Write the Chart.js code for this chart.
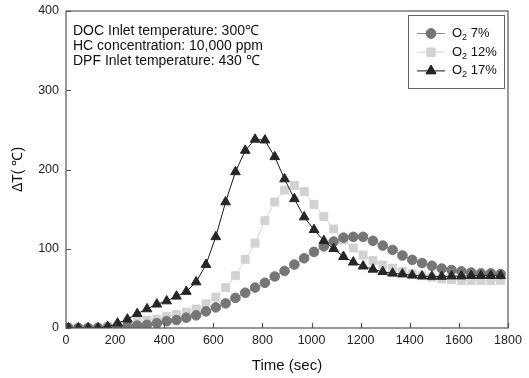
<!DOCTYPE html>
<html>
	<head>
		<meta charset="UTF-8" />
		<title>Delta T vs time</title>
		<style type="text/css">
			body { margin: 0; background: #ffffff; }
		</style>
	</head>
	<body>
		<canvas id="myChart" width="529" height="378"></canvas>

		<script src="https://cdn.jsdelivr.net/npm/chart.js"></script>
		<script>
			// sample times (sec), one point every 40 s
			const times = [10, 50, 90, 130, 170, 210, 250, 290, 330, 370, 410, 450, 490, 530, 570,
				610, 650, 690, 730, 770, 810, 850, 890, 930, 970, 1010, 1050, 1090, 1130, 1170,
				1210, 1250, 1290, 1330, 1370, 1410, 1450, 1490, 1530, 1570, 1610, 1650, 1690, 1730, 1770];

			// delta T (deg C)
			const o2_7 = [0, 0, 0, 0, 0.5, 1, 2, 3, 4, 6, 8.5, 10, 13, 16, 21,
				26, 31, 38, 44.5, 51, 57, 65, 72, 80, 88, 96, 103, 109, 114, 115,
				115, 110, 104, 98.5, 91.5, 86, 82, 78.5, 75, 73, 71.5, 70, 69, 69, 68];
			const o2_12 = [0, 0, 0, 1, 2, 3, 5, 8, 10, 11, 14.5, 17, 20, 24, 30.5,
				39, 51, 66, 86.5, 107, 135.5, 159, 174, 180, 172, 156, 140.5, 125, 111, 101,
				92, 85, 79.5, 75.5, 71.5, 68.5, 66, 64, 62, 61, 60, 60, 60, 60, 60];
			const o2_17 = [0, 0, 0, 0, 1.5, 6, 11, 18, 24, 30, 34, 40, 46, 58, 80,
				115, 159, 197, 224, 238, 237, 216, 188, 163, 140, 124, 110, 100, 90, 83,
				78, 74, 71, 69, 68, 66.5, 65.5, 65, 65, 65.5, 65.5, 66, 66, 66, 66];

			const xTicks = [0, 200, 400, 600, 800, 1000, 1200, 1400, 1600, 1800];
			const yTicks = [0, 100, 200, 300, 400];

			const notes = [
				"DOC Inlet temperature: 300\u2103",
				"HC concentration: 10,000 ppm",
				"DPF Inlet temperature: 430 \u2103"
			];
			const legendNames = ["7%", "12%", "17%"];

			function pts(vals) {
				return vals.map((v, i) => ({ x: times[i], y: v }));
			}
		</script>

		<script>
		const ctx = document.getElementById('myChart').getContext('2d');
		const FONT = "'Liberation Sans', Arial, sans-serif";

		// box around the plot, inward ticks, text block and legend
		const framePlugin = {
			id: 'frame',
			afterDraw(chart) {
				const c = chart.ctx;
				const a = chart.chartArea;
				const xs = chart.scales.x, ys = chart.scales.y;
				c.save();
				c.strokeStyle = '#555';
				c.lineWidth = 1.2;
				c.strokeRect(a.left, a.top, a.right - a.left, a.bottom - a.top);

				c.beginPath();
				xTicks.forEach(t => {
					const px = Math.round(xs.getPixelForValue(t)) + 0.5;
					c.moveTo(px, a.bottom);
					c.lineTo(px, a.bottom - 5);
				});
				yTicks.forEach(t => {
					const py = Math.round(ys.getPixelForValue(t)) + 0.5;
					c.moveTo(a.left, py);
					c.lineTo(a.left + 5, py);
				});
				c.stroke();

				c.fillStyle = '#111';
				c.font = '14px ' + FONT;
				c.textBaseline = 'middle';
				notes.forEach((n, i) => c.fillText(n, a.left + 7, 31 + i * 15.3));

				// legend
				c.fillStyle = '#fff';
				c.fillRect(408, 15, 96, 73);
				c.strokeStyle = '#666';
				c.lineWidth = 1;
				c.strokeRect(408.5, 15.5, 96, 73);
				chart.data.datasets.forEach((ds, i) => {
					const y = 33.5 + i * 18.7;
					c.strokeStyle = ds.borderColor;
					c.lineWidth = 1;
					c.beginPath();
					c.moveTo(417, y);
					c.lineTo(445, y);
					c.stroke();
					Chart.helpers.drawPoint(c, {
						pointStyle: ds.pointStyle,
						radius: ds.pointRadius,
						borderWidth: 1
					}, 431, y);
					c.fillStyle = ds.pointBackgroundColor;
					c.strokeStyle = ds.pointBorderColor;
					c.fill();
					c.stroke();

					c.fillStyle = '#111';
					c.textBaseline = 'middle';
					c.font = '13px ' + FONT;
					c.fillText('O', 452, y);
					const w = c.measureText('O').width;
					c.font = '9px ' + FONT;
					c.fillText('2', 452 + w, y + 4);
					const w2 = c.measureText('2').width;
					c.font = '13px ' + FONT;
					c.fillText(' ' + legendNames[i], 452 + w + w2, y);
				});
				c.restore();
			}
		};

		const config = {
			type: 'line',
			data: {
				datasets: [{
					label: 'O2 7%',
					data: pts(o2_7),
					borderColor: '#8a8a8a',
					borderWidth: 1,
					pointStyle: 'circle',
					pointRadius: 4.8,
					pointBackgroundColor: '#767676',
					pointBorderColor: '#767676',
					order: 2
				}, {
					label: 'O2 12%',
					data: pts(o2_12),
					borderColor: '#d6d6d6',
					borderWidth: 1,
					pointStyle: 'rect',
					pointRadius: 5.6,
					pointBackgroundColor: '#d2d2d2',
					pointBorderColor: '#d2d2d2',
					order: 3
				}, {
					label: 'O2 17%',
					data: pts(o2_17),
					borderColor: '#1a1a1a',
					borderWidth: 1,
					pointStyle: 'triangle',
					pointRadius: 5.6,
					pointBackgroundColor: '#262626',
					pointBorderColor: '#262626',
					order: 1
				}]
			},
			options: {
				responsive: false,
				animation: false,
				layout: { padding: { left: 0, right: 21, top: 11, bottom: 0 } },
				plugins: {
					legend: { display: false },
					tooltip: { enabled: false }
				},
				scales: {
					x: {
						type: 'linear',
						min: 0,
						max: 1800,
						afterFit: s => { s.height = 50; },
						afterBuildTicks: s => { s.ticks = xTicks.map(v => ({ value: v })); },
						ticks: { color: '#222', font: { family: FONT, size: 12.5 }, padding: 5, maxRotation: 0,
							callback: v => String(v) },
						grid: { drawOnChartArea: false, drawTicks: false },
						border: { display: false },
						title: { display: true, text: 'Time (sec)', color: '#111', font: { family: FONT, size: 15 }, padding: { top: 0, bottom: 3 } }
					},
					y: {
						min: 0,
						max: 400,
						afterFit: s => { s.width = 66; s.paddingTop = 0; s.paddingBottom = 0; },
						afterBuildTicks: s => { s.ticks = yTicks.map(v => ({ value: v })); },
						ticks: { color: '#222', font: { family: FONT, size: 12.5 }, padding: 7,
							callback: v => String(v) },
						grid: { drawOnChartArea: false, drawTicks: false },
						border: { display: false },
						title: { display: true, text: '\u0394T( \u2103)', color: '#111', font: { family: FONT, size: 14 }, padding: { top: 10, bottom: 0 } }
					}
				}
			},
			plugins: [framePlugin]
		};

		const myChart = new Chart(ctx, config);
		</script>
	</body>
</html>
